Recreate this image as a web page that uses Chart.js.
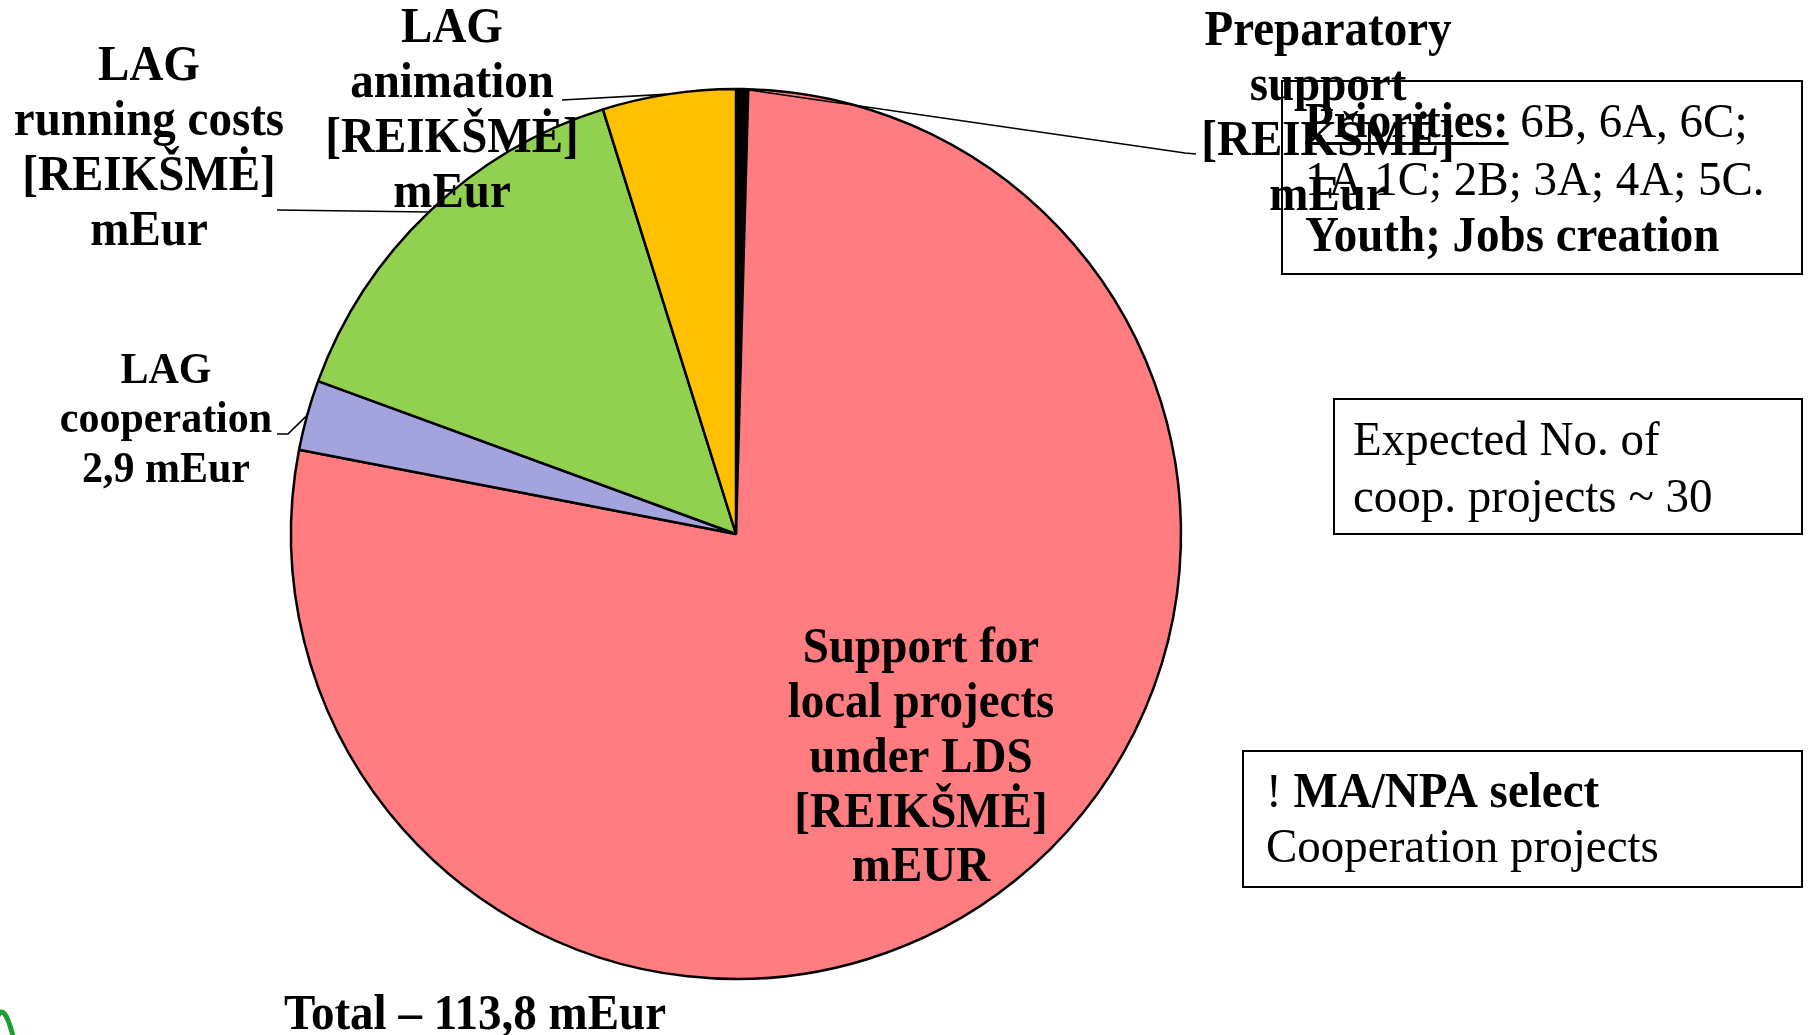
<!DOCTYPE html>
<html><head><meta charset="utf-8">
<script src="https://cdn.jsdelivr.net/npm/chart.js@4.4.1/dist/chart.umd.min.js"></script>
<style>html,body{margin:0;padding:0;background:#fff;overflow:hidden}canvas{display:block}</style>
</head><body>
<canvas id="c" width="1808" height="1035"></canvas>
<script>
// ---- data ----
const categories = ['Preparatory support', 'Support for local projects under LDS', 'LAG cooperation', 'LAG running costs', 'LAG animation'];
const values = [0.5, 88.3, 2.9, 16.6, 5.5];
const sliceColors = ['#000000', '#FF7C80', '#A3A3DE', '#92D050', '#FFC000'];
const labelLines = [
  ['Preparatory', 'support', '[REIKŠMĖ]', 'mEur'],
  ['Support for', 'local projects', 'under LDS', '[REIKŠMĖ]', 'mEUR'],
  ['LAG', 'cooperation', '2,9 mEur'],
  ['LAG', 'running costs', '[REIKŠMĖ]', 'mEur'],
  ['LAG', 'animation', '[REIKŠMĖ]', 'mEur']
];
const totalText = 'Total – 113,8 mEur';
const priorityHead = 'Priorities:';
const priorityLine1 = ' 6B, 6A, 6C;';
const priorityLine2 = '1A 1C; 2B; 3A; 4A; 5C.';
const priorityLine3 = 'Youth; Jobs creation';
const coopLines = ['Expected No. of', 'coop. projects ~ 30'];
const selectMark = '! ';
const selectBold = 'MA/NPA select';
const selectLine2 = 'Cooperation projects';

// ---- layout (positions / styles) ----
const SERIF = '"Liberation Serif", "Times New Roman", serif';
const BOLD_STRETCH = 1.07;
const REG_STRETCH = 1.03;
const LABEL_LAYOUT = [
  { x: 1328, base: [45, 100, 155, 210], size: 47, leader: [[1196, 154], [1185, 153]] },
  { x: 921, base: [662, 717, 772, 827, 881], size: 47, leader: null },
  { x: 166, base: [383, 432, 482], size: 42, leader: [[277, 434], [288, 434]] },
  { x: 149, base: [80, 135, 190, 245], size: 47, leader: [[277, 210]] },
  { x: 452, base: [42, 97, 152, 207], size: 47, leader: [[562, 100]] }
];

function drawText(ctx, text, x, y, stretch) {
  ctx.save();
  ctx.translate(x, y);
  ctx.scale(1, stretch);
  ctx.fillText(text, 0, 0);
  ctx.restore();
}

const annot = {
  id: 'annot',
  afterDraw(chart) {
    const ctx = chart.ctx;
    const meta = chart.getDatasetMeta(0);
    ctx.save();
    ctx.fillStyle = '#000';
    ctx.strokeStyle = '#000';

    // boxes
    ctx.lineWidth = 2;
    ctx.strokeRect(1282, 81, 520, 193);
    ctx.strokeRect(1334, 399, 468, 135);
    ctx.strokeRect(1243, 751, 559, 136);

    // Priorities box text
    ctx.textAlign = 'left';
    ctx.textBaseline = 'alphabetic';
    ctx.font = 'bold 47px ' + SERIF;
    drawText(ctx, priorityHead, 1305, 137, BOLD_STRETCH);
    const hw = ctx.measureText(priorityHead).width;
    ctx.fillRect(1305, 142, hw, 3);
    ctx.font = '47px ' + SERIF;
    drawText(ctx, priorityLine1, 1305 + hw, 137, REG_STRETCH);
    drawText(ctx, priorityLine2, 1305, 195, REG_STRETCH);
    ctx.font = 'bold 47px ' + SERIF;
    drawText(ctx, priorityLine3, 1305, 251, BOLD_STRETCH);

    // coop box
    ctx.font = '47px ' + SERIF;
    drawText(ctx, coopLines[0], 1353, 455, REG_STRETCH);
    drawText(ctx, coopLines[1], 1353, 512, REG_STRETCH);

    // select box
    ctx.font = '47px ' + SERIF;
    drawText(ctx, selectMark, 1266, 807, REG_STRETCH);
    const mw = ctx.measureText(selectMark).width;
    ctx.font = 'bold 47px ' + SERIF;
    drawText(ctx, selectBold, 1266 + mw, 807, BOLD_STRETCH);
    ctx.font = '47px ' + SERIF;
    drawText(ctx, selectLine2, 1266, 862, REG_STRETCH);

    // slice labels and leader lines
    ctx.lineWidth = 1.6;
    LABEL_LAYOUT.forEach((L, i) => {
      const arc = meta.data[i];
      const p = arc.getProps(['x', 'y', 'startAngle', 'endAngle', 'outerRadius'], true);
      const mid = (p.startAngle + p.endAngle) / 2;
      const ax = p.x + Math.cos(mid) * p.outerRadius;
      const ay = p.y + Math.sin(mid) * p.outerRadius;
      if (L.leader) {
        ctx.beginPath();
        ctx.moveTo(L.leader[0][0], L.leader[0][1]);
        for (let k = 1; k < L.leader.length; k++) ctx.lineTo(L.leader[k][0], L.leader[k][1]);
        ctx.lineTo(ax, ay);
        ctx.stroke();
      }
      ctx.font = 'bold ' + L.size + 'px ' + SERIF;
      ctx.textAlign = 'center';
      labelLines[i].forEach((t, j) => drawText(ctx, t, L.x, L.base[j], BOLD_STRETCH));
    });

    // total
    ctx.font = 'bold 47px ' + SERIF;
    ctx.textAlign = 'center';
    drawText(ctx, totalText, 475, 1029, BOLD_STRETCH);

    // logo fragment bottom-left
    ctx.strokeStyle = '#1E9E2E';
    ctx.lineWidth = 5;
    ctx.beginPath();
    ctx.moveTo(-2, 1016);
    ctx.quadraticCurveTo(4, 1002, 13, 1036);
    ctx.stroke();
    ctx.restore();
  }
};

new Chart(document.getElementById('c'), {
  type: 'pie',
  data: {
    labels: categories,
    datasets: [{
      data: values,
      backgroundColor: sliceColors,
      borderColor: '#000000',
      borderWidth: 2.5
    }]
  },
  options: {
    responsive: false,
    devicePixelRatio: 1,
    animation: false,
    radius: 445,
    layout: { padding: { left: 290, right: 626, top: 88, bottom: 55 } },
    plugins: { legend: { display: false }, tooltip: { enabled: false }, title: { display: false } }
  },
  plugins: [annot]
});
</script>
</body></html>
